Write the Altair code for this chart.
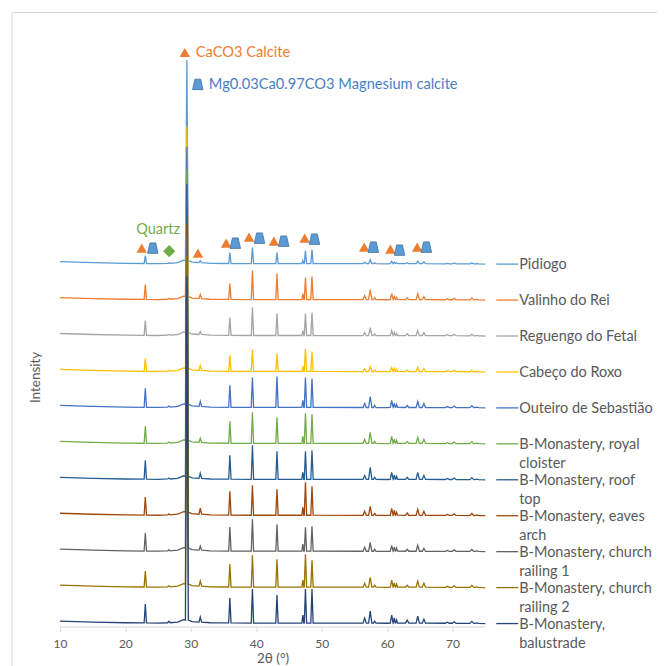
import altair as alt
import pandas as pd

# ---------------- data ----------------
NAMES = ["Pidiogo", "Valinho do Rei", "Reguengo do Fetal", "Cabeço do Roxo",
         "Outeiro de Sebastião", "B-Monastery, royal cloister", "B-Monastery, roof top",
         "B-Monastery, eaves arch", "B-Monastery, church railing 1",
         "B-Monastery, church railing 2", "B-Monastery, balustrade"]
LABEL_LINE1 = ["Pidiogo", "Valinho do Rei", "Reguengo do Fetal", "Cabeço do Roxo",
               "Outeiro de Sebastião", "B-Monastery, royal", "B-Monastery, roof",
               "B-Monastery, eaves", "B-Monastery, church", "B-Monastery, church",
               "B-Monastery,"]
LABEL_LINE2 = ["", "", "", "", "", "cloister", "top", "arch", "railing 1", "railing 2",
               "balustrade"]
COLORS = ["#5B9BD5", "#ED7D31", "#A5A5A5", "#FFC000", "#4472C4", "#70AD47",
          "#255E91", "#9E480E", "#636363", "#997300", "#264478"]

# peak positions (2theta, degrees) shared by all patterns
PEAK_POS = [23.05, 26.65, 29.40, 31.45, 35.97, 39.42, 43.17, 47.12, 47.52, 48.52,
            56.57, 57.42, 58.10, 60.70, 61.10, 61.45, 63.07, 64.68, 65.62, 69.20,
            70.25, 72.95, 73.70]
PEAK_HALFWIDTH = [0.18, 0.2, 0.22, 0.2, 0.18, 0.18, 0.18, 0.15, 0.18, 0.18,
                  0.25, 0.25, 0.2, 0.22, 0.15, 0.15, 0.25, 0.25, 0.25, 0.3,
                  0.3, 0.3, 0.3]
PEAK_FOOT = [0.6, 0.8, 3.5, 1.5, 0.6, 0.5, 0.5, 0.5, 0.5, 0.5, 0.4, 0.4, 0.4, 0.4,
             0.6, 0.5, 0.4, 0.4, 0.4, 0.3, 0.3, 0.2, 0.2]

# peak heights above the trace baseline (arbitrary intensity units)
H_PIDIOGO = [8, 0.5, 201, 2, 11, 16, 11, 3, 13, 14, 1.5, 4, 1, 2.5, 1.5, 1, 1, 2.5, 2, 0.5, 0.8, 1, 0.3]
H_VALINHO = [15, 1, 159, 4, 16, 29, 26, 6, 22, 23, 4, 10, 2, 6, 3, 2, 2, 6, 3, 1, 1.5, 2, 0.5]
H_REGUENGO = [15, 0.8, 195, 3, 18, 28, 22, 5, 22, 23, 3, 8, 1.5, 5, 3, 2, 2, 5, 3, 1, 1.5, 1.5, 0.5]
H_CABECO = [13, 0.8, 242, 5, 16, 22, 18, 5, 23, 20, 2.5, 5, 1.5, 4, 3, 2, 1.5, 4, 3, 1, 1.5, 1.5, 0.5]
H_OUTEIRO = [19, 1, 258, 5, 22, 30, 31, 7, 30, 29, 4, 11, 2, 7, 4, 3, 2, 6, 4, 1, 1.5, 2, 0.5]
H_ROYAL = [17, 1, 271, 4, 22, 31, 26, 7, 30, 29, 4, 11, 2, 7, 4, 3, 2, 6, 4, 1, 1.5, 2, 0.5]
H_ROOF = [19, 1, 293, 5, 24, 34, 28, 7, 28, 29, 4, 12, 2, 7, 4, 3, 2, 7, 4, 1, 1.5, 2, 0.5]
H_EAVES = [18, 1, 289, 6, 24, 30, 26, 8, 33, 29, 4, 9, 2, 7, 5, 3, 2.5, 6, 4, 1, 1.5, 2, 0.5]
H_RAILING1 = [18, 1, 312, 4, 24, 32, 27, 7, 24, 25, 4, 9, 2, 6, 4, 3, 2, 6, 3, 1, 1.5, 2, 0.5]
H_RAILING2 = [16, 1, 328, 5, 23, 32, 28, 7, 33, 27, 4, 10, 2, 7, 4, 3, 2, 6, 4, 1, 1.5, 2, 0.5]
H_BALUSTRADE = [19, 1.5, 344, 5, 25, 34, 28, 8, 34, 34, 5, 12, 2, 8, 5, 3, 3, 7, 4, 1, 1.5, 2, 0.5]
HEIGHTS = [H_PIDIOGO, H_VALINHO, H_REGUENGO, H_CABECO, H_OUTEIRO, H_ROYAL, H_ROOF,
           H_EAVES, H_RAILING1, H_RAILING2, H_BALUSTRADE]

# slowly varying background of each pattern
BG_X = [10, 15, 20, 25, 28.0, 28.9, 30.2, 33, 45, 60, 75]
BG_Y = [2.5, 1.5, 0.8, 0.5, 1.5, 4, 2, 0.8, 0.5, 0.3, 0]

# phase markers
CALCITE_X = [22.5, 31.1, 35.4, 38.9, 42.7, 47.4, 56.5, 60.5, 64.6]
CALCITE_Y = [379, 374, 384, 390, 386, 389, 380, 378, 380]
MGCAL_X = [24.2, 36.8, 40.5, 44.2, 48.9, 57.9, 61.9, 66.0]
MGCAL_Y = [379, 384, 389, 386, 388, 380, 377, 380]
QUARTZ_X = [26.7]
QUARTZ_Y = [376]
KEY_X = [29.08, 31.07]
KEY_Y = [575, 543]
KEY_TEXT = ["CaCO3 Calcite", "Mg0.03Ca0.97CO3 Magnesium calcite"]
QUARTZ_LABEL_X = [25.0]
QUARTZ_LABEL_Y = [397]

# ---------------- build tables ----------------
STEP = 36
FONT = "Lato"
TEXT_GRAY = "#595959"
XS = alt.Scale(domain=[10, 75], nice=False, zero=False)
YS = alt.Scale(domain=[0, 610], nice=False, zero=False)
XAXIS = alt.Axis(values=[10, 20, 30, 40, 50, 60, 70], title="2θ (°)",
                 grid=False, domainColor="#D9D9D9", tickColor="#D9D9D9",
                 tickSize=5, labelColor=TEXT_GRAY, labelFontSize=12,
                 labelFont=FONT, labelPadding=7, labelFlush=False,
                 titleColor=TEXT_GRAY, titleFont=FONT, titleFontSize=13.5,
                 titleFontWeight="normal", titleY=32, titleBaseline="middle")
YAXIS = alt.Axis(title="Intensity", domain=False, ticks=False, labels=False,
                 grid=False, titleColor=TEXT_GRAY, titleFont=FONT,
                 titleFontSize=13.5, titleFontWeight="normal",
                 titleX=-24, titleY=360, titleBaseline="middle", titleAngle=270)


def X(field="x:Q"):
    return alt.X(field, scale=XS, axis=XAXIS)


def Y(field="y:Q"):
    return alt.Y(field, scale=YS, axis=YAXIS)


bases = [3 + STEP * (len(NAMES) - 1 - i) for i in range(len(NAMES))]

layers = []

for i, (name, color, heights) in enumerate(zip(NAMES, COLORS, HEIGHTS)):
    b = bases[i]
    xs, ys = [], []
    for bx, by in zip(BG_X, BG_Y):
        xs.append(bx)
        ys.append(b + by)
    for p, w, f, h in zip(PEAK_POS, PEAK_HALFWIDTH, PEAK_FOOT, heights):
        xs += [p - w, p, p + w]
        ys += [b + f, b + f + h, b + f]
    df = pd.DataFrame({"x": xs, "y": ys}).sort_values("x")
    layers.append(alt.Chart(df).mark_line(color=color, strokeWidth=1.3).encode(
        x=X(), y=Y(), order="x:Q"))

# legend (line keys + labels at the end of each trace)
leg = pd.DataFrame({"name": NAMES, "y": bases, "l1": LABEL_LINE1, "l2": LABEL_LINE2})
cscale = alt.Scale(domain=NAMES, range=COLORS)
layers.append(alt.Chart(leg).mark_rule(strokeWidth=1.3).encode(
    x=alt.value(437), x2=alt.value(459), y=Y(),
    color=alt.Color("name:N", scale=cscale, legend=None)))
layers.append(alt.Chart(leg).mark_text(align="left", baseline="middle", font=FONT,
                                       fontSize=14.5, color=TEXT_GRAY, dy=1).encode(
    x=alt.value(460), y=Y(), text="l1:N"))
layers.append(alt.Chart(leg).mark_text(align="left", baseline="middle", font=FONT,
                                       fontSize=14.5, color=TEXT_GRAY, dy=20.5).encode(
    x=alt.value(460), y=Y(), text="l2:N"))

# phase markers
TRAP = "M-0.55,-1L0.55,-1L1,1L-1,1Z"
cal_df = pd.DataFrame({"x": CALCITE_X + [KEY_X[0]], "y": CALCITE_Y + [KEY_Y[0]]})
mg_df = pd.DataFrame({"x": MGCAL_X + [KEY_X[1]], "y": MGCAL_Y + [KEY_Y[1]]})
qz_df = pd.DataFrame({"x": QUARTZ_X, "y": QUARTZ_Y})
layers.append(alt.Chart(cal_df).mark_point(shape="triangle-up", filled=True, size=110,
                                           color="#ED7D31", opacity=1).encode(x=X(), y=Y()))
layers.append(alt.Chart(mg_df).mark_point(shape=TRAP, filled=True, size=110,
                                          fill="#5B9BD5", stroke="#41719C",
                                          strokeWidth=0.8, opacity=1).encode(x=X(), y=Y()))
layers.append(alt.Chart(qz_df).mark_point(shape="diamond", filled=True, size=150,
                                          color="#70AD47", opacity=1).encode(x=X(), y=Y()))

key_df = pd.DataFrame({"x": KEY_X, "y": KEY_Y, "t": KEY_TEXT,
                       "c": ["#ED7D31", "#4A7FC1"]})
layers.append(alt.Chart(key_df).mark_text(align="left", baseline="middle", font=FONT,
                                          fontSize=14.7, dx=11, dy=1).encode(
    x=X(), y=Y(), text="t:N", color=alt.Color("c:N", scale=None)))
qlab = pd.DataFrame({"x": QUARTZ_LABEL_X, "y": QUARTZ_LABEL_Y, "t": ["Quartz"]})
layers.append(alt.Chart(qlab).mark_text(align="center", baseline="middle", font=FONT,
                                        fontSize=14.5, color="#70AD47").encode(
    x=X(), y=Y(), text="t:N"))

# outer chart frame (decorative)
frame_df = pd.DataFrame({"k": [0]})
layers.append(alt.Chart(frame_df).mark_rule(color="#D9D9D9", strokeWidth=1).encode(
    x=alt.value(-48), y=alt.value(-5), y2=alt.value(660)))
layers.append(alt.Chart(frame_df).mark_rule(color="#D9D9D9", strokeWidth=1).encode(
    x=alt.value(-48), x2=alt.value(610), y=alt.value(-5)))

chart = alt.layer(*layers).properties(
    width=426, height=610,
    padding={"left": 52, "top": 9, "right": 172, "bottom": 40},
    autosize=alt.AutoSizeParams(type="none"),
    background="white",
).configure(font=FONT).configure_view(strokeWidth=0)

chart.save("out.html", embed_options={"renderer": "svg", "actions": False})
